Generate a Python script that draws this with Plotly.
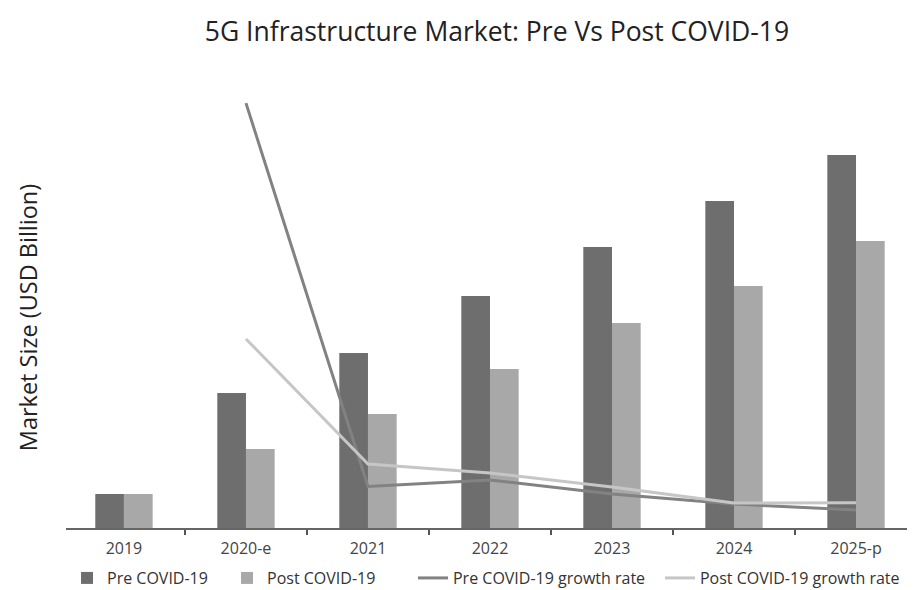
import plotly.graph_objects as go

years = ["2019", "2020-e", "2021", "2022", "2023", "2024", "2025-p"]
pre_covid = [3.4, 13.5, 17.5, 23.2, 28.1, 32.7, 37.3]
post_covid = [3.4, 7.9, 11.4, 15.9, 20.5, 24.2, 28.7]
pre_growth = [None, 291, 28.4, 32.9, 23.3, 16.4, 12.3]
post_growth = [None, 129.5, 43.8, 37.7, 28.1, 17.1, 17.3]

FONT = "Open Sans"

fig = go.Figure()
fig.add_trace(go.Bar(x=years, y=pre_covid, name="Pre COVID-19", legend="legend",
                     marker=dict(color="#6e6e6e", line=dict(width=0))))
fig.add_trace(go.Bar(x=years, y=post_covid, name="Post COVID-19", legend="legend2",
                     marker=dict(color="#a8a8a8", line=dict(width=0))))
fig.add_trace(go.Scatter(x=years, y=pre_growth, name="Pre COVID-19 growth rate",
                         mode="lines", yaxis="y2", legend="legend3",
                         line=dict(color="#828282", width=3)))
fig.add_trace(go.Scatter(x=years, y=post_growth, name="Post COVID-19 growth rate",
                         mode="lines", yaxis="y2", legend="legend4",
                         line=dict(color="#c6c6c6", width=3)))

legend_y = -0.0754


def leg(xpos):
    return dict(orientation="h", x=xpos, xanchor="left", y=legend_y, yanchor="top",
                font=dict(size=16, color="#333", family=FONT),
                itemwidth=30, bgcolor="rgba(0,0,0,0)")


fig.update_layout(
    width=915, height=590,
    margin=dict(l=58, r=0, t=82, b=70, autoexpand=False),
    paper_bgcolor="white", plot_bgcolor="white",
    font=dict(family=FONT, color="#444"),
    title=dict(text="5G Infrastructure Market: Pre Vs Post COVID-19",
               x=0.5344, xanchor="center", y=0.959, yanchor="middle",
               font=dict(size=26.5, color="#222", family=FONT)),
    barmode="group", bargap=0.53, bargroupgap=0,
    showlegend=True,
    legend=leg(0.0012),
    legend2=leg(0.1879),
    legend3=leg(0.4049),
    legend4=leg(0.6931),
    xaxis=dict(type="category", range=[-0.475, 6.549],
               showline=True, linecolor="#666", linewidth=2,
               ticks="outside", tickson="boundaries", ticklen=5,
               tickcolor="#555", tickwidth=2, ticklabelstandoff=5,
               tickfont=dict(size=16, color="#444", family=FONT),
               showgrid=False, zeroline=False, automargin=False),
    yaxis=dict(range=[0, 43.8], showticklabels=False, showgrid=False,
               zeroline=False, showline=False, ticks="", automargin=False),
    yaxis2=dict(range=[0, 300], overlaying="y", side="right",
                visible=False, showgrid=False, zeroline=False),
    annotations=[dict(text="Market Size (USD Billion)", textangle=-90,
                      xref="paper", yref="paper", x=-0.0443, y=0.479,
                      xanchor="center", yanchor="middle", showarrow=False,
                      font=dict(size=23.5, color="#222", family=FONT))],
)

fig.write_html("out.html")
